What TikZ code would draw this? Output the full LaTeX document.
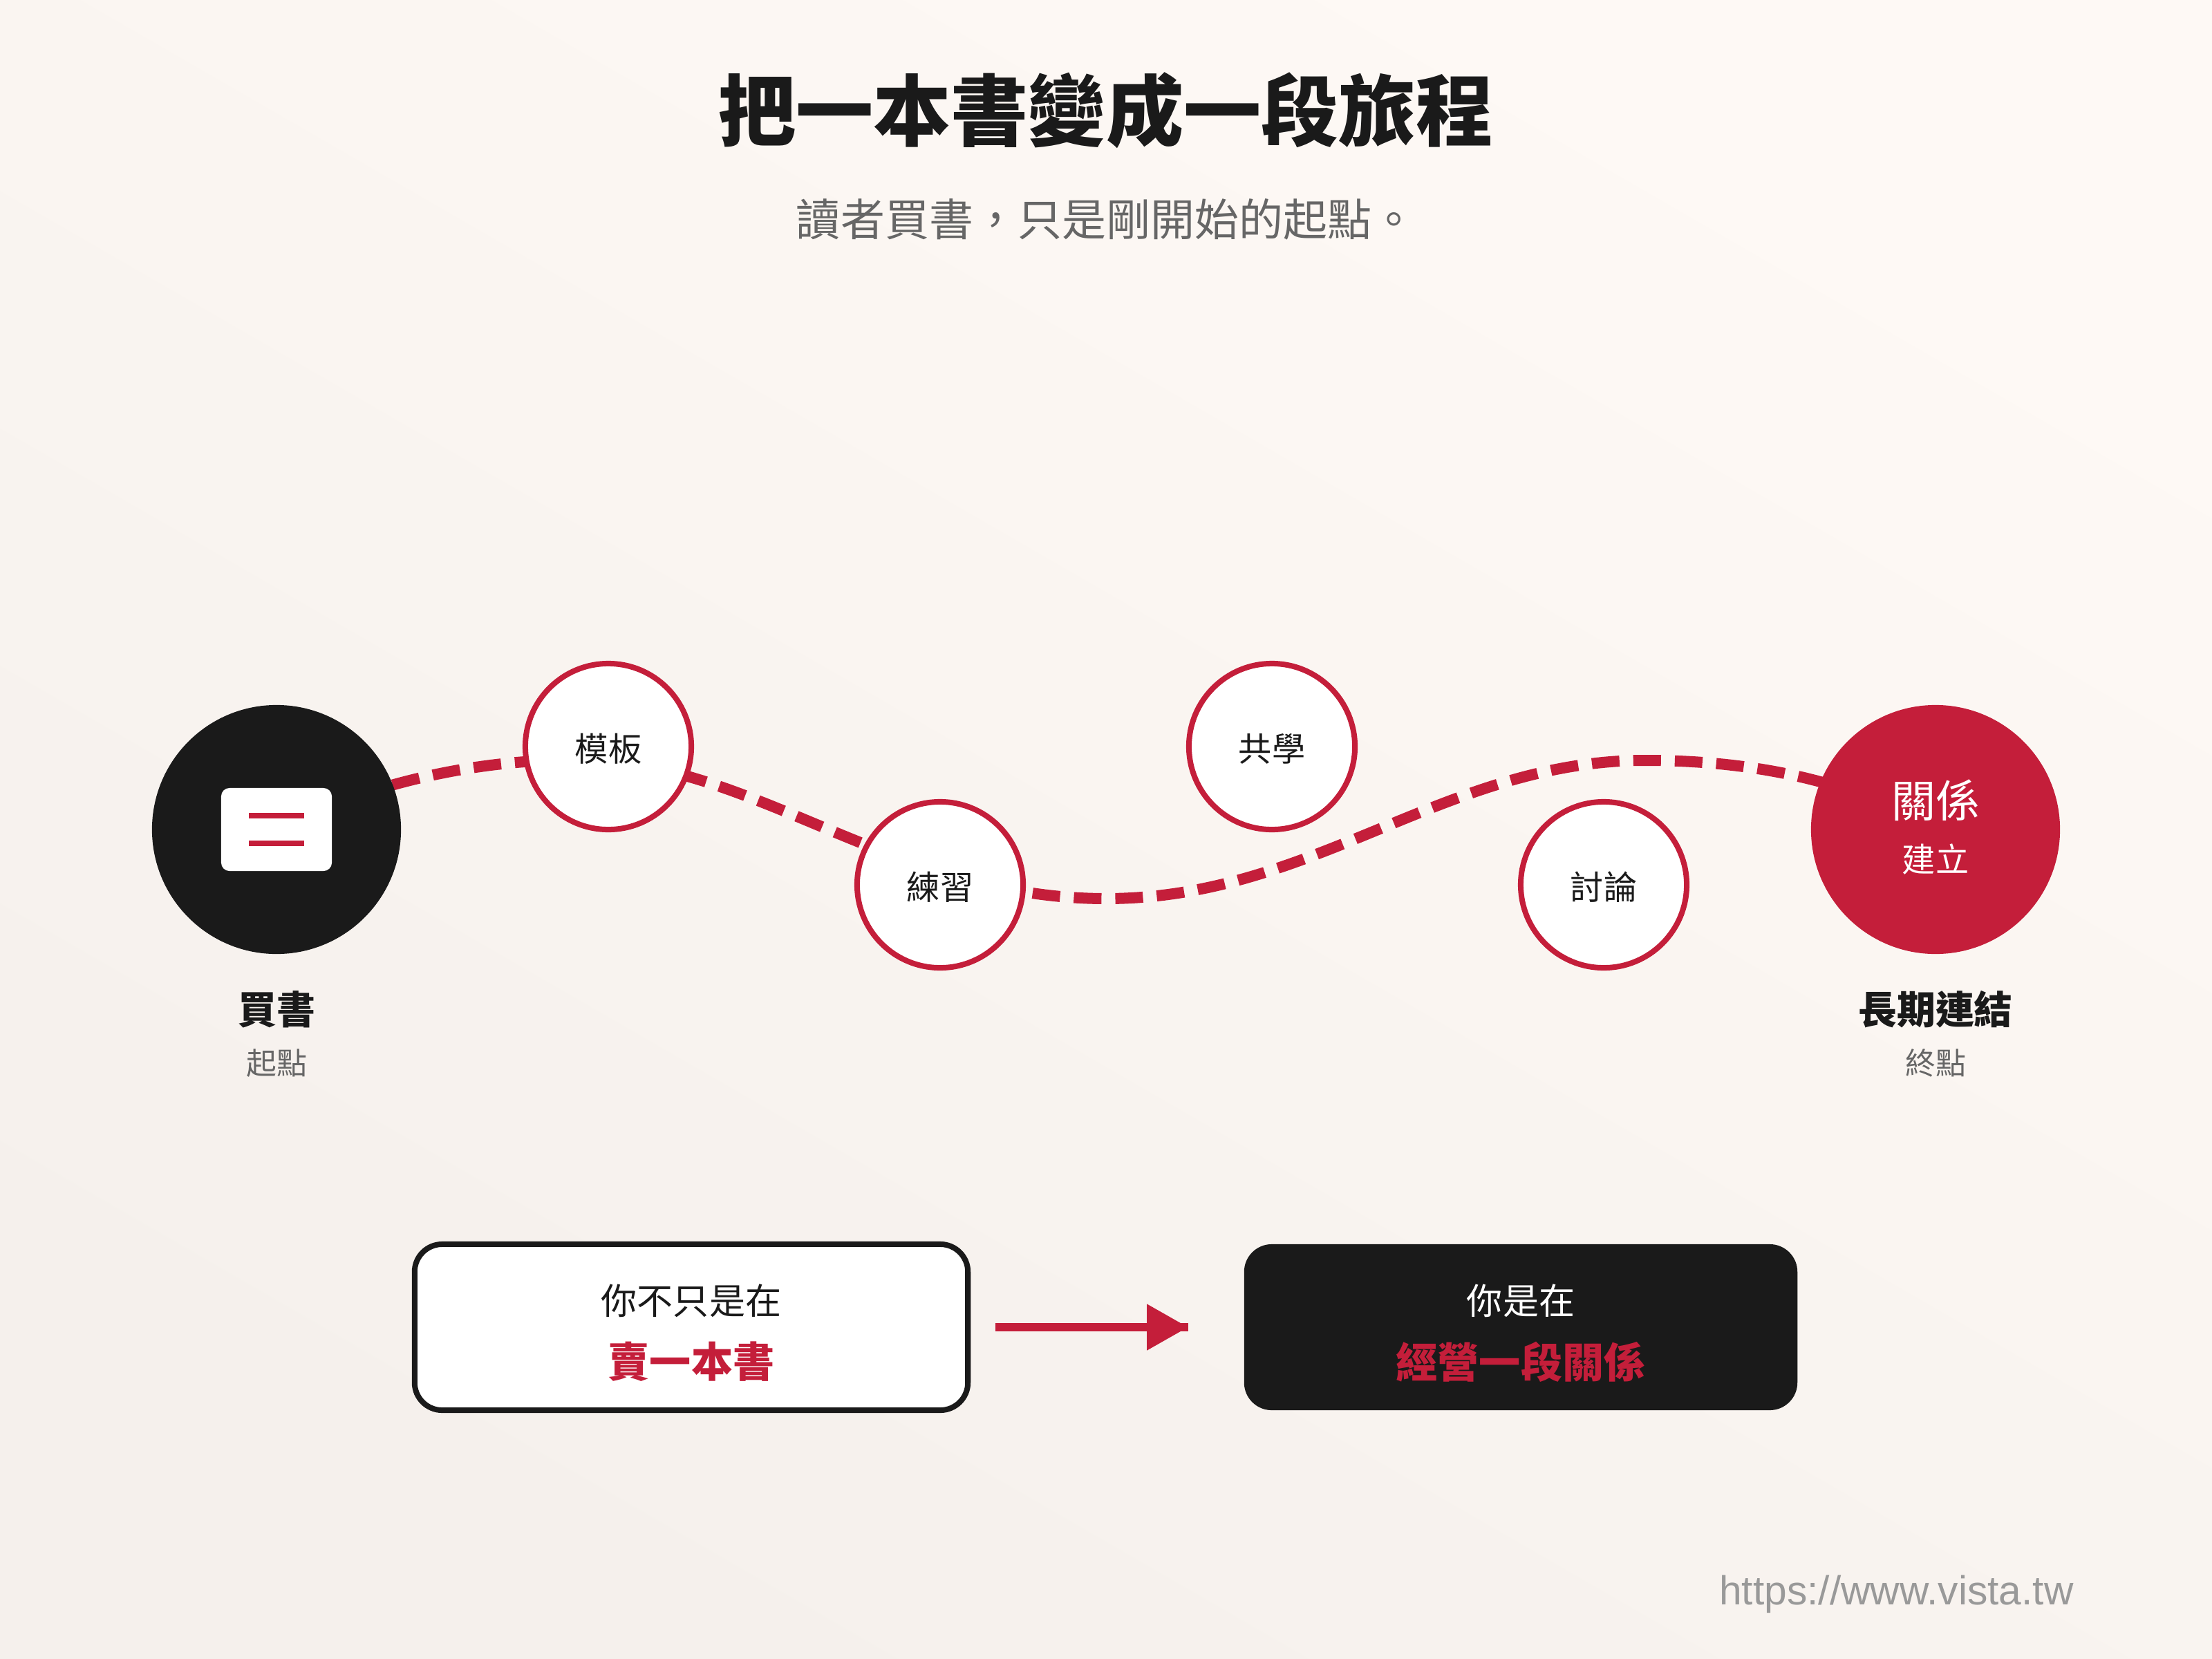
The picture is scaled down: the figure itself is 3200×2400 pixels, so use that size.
\documentclass[tikz,border=0pt]{standalone}
\usepackage{fontspec}
\setmainfont{Noto Sans CJK TC}
\newfontfamily\urlfont{Liberation Sans}
\usepackage{tikz}
\usetikzlibrary{arrows.meta,backgrounds}
\definecolor{inkblack}{HTML}{1A1A1A}
\definecolor{bookred}{HTML}{C41E3A}
\definecolor{softgray}{HTML}{666666}
\definecolor{urlgray}{HTML}{999999}
\definecolor{paperlight}{HTML}{FEF9F5}
\definecolor{paperdark}{HTML}{F5F0EC}

\begin{document}
\begin{tikzpicture}[x=0.01cm,y=-0.01cm,
  bigstop/.style={circle,minimum size=3.6cm,inner sep=0pt},
  midstop/.style={circle,draw=bookred,line width=0.08cm,fill=white,minimum size=2.4cm,
    inner sep=0pt,text=inkblack},
  stoptext/.style={text=inkblack,font=\fontsize{13.7}{16}\selectfont},
  mainlabel/.style={text=inkblack,font=\fontsize{15.9}{18}\selectfont\bfseries},
  sublabel/.style={text=softgray,font=\fontsize{12.5}{15}\selectfont},
  msgbox/.style={rectangle,minimum width=8cm,minimum height=2.4cm,rounded corners=0.4cm,inner sep=0pt},
  msgtop/.style={font=\fontsize{14.8}{17}\selectfont},
  msgred/.style={text=bookred,font=\fontsize{17.1}{20}\selectfont\bfseries},
  journey/.style={draw=bookred,line width=0.16cm,dash pattern=on 0.4cm off 0.2cm},
  flowline/.style={draw=bookred,line width=0.12cm,shorten <=0.36cm,shorten >=0.8cm}]
  \useasboundingbox (0,0) rectangle (3200,2400);

  %title
  \node[text=inkblack,font=\fontsize{31.9}{36}\selectfont\bfseries] (title) at (1600,160) {把一本書變成一段旅程};
  \node[text=softgray,font=\fontsize{18.2}{22}\selectfont] (subtitle) at (1600,317) {讀者買書\char"FF0C{}只是剛開始的起點。};

  %end points
  \node[bigstop,fill=inkblack] (buy) at (400,1200) {};
  \node[bigstop,fill=bookred] (rel) at (2800,1200) {};

  %book icon
  \node[rectangle,fill=white,minimum width=1.6cm,minimum height=1.2cm,rounded corners=0.12cm,inner sep=0pt] (book) at (buy) {};
  \foreach \y in {1180,1220} {
    \fill[bookred] (360,\y-4) rectangle (440,\y+4);
  }

  %stops along the way
  \foreach \name/\x/\y/\txt in {tpl/880/1080/模板,prac/1360/1280/練習,share/1840/1080/共學,talk/2320/1280/討論} {
    \node[midstop] (\name) at (\x,\y) {};
    \node[stoptext] (\name txt) at (\x,\y+3) {\txt};
  }

  %text in and under the end points
  \node[text=white,font=\fontsize{18.2}{22}\selectfont] (relA) at (2800,1158) {關係};
  \node[text=white,font=\fontsize{13.7}{16}\selectfont] (relB) at (2800,1243) {建立};
  \node[mainlabel] (buyA) at (400,1460) {買書};
  \node[sublabel] (buyB) at (400,1538) {起點};
  \node[mainlabel] (relC) at (2800,1460) {長期連結};
  \node[sublabel] (relD) at (2800,1538) {終點};

  %bottom message
  \node[msgbox,draw=inkblack,line width=0.08cm,fill=white] (sell) at (1000,1920) {};
  \node[msgbox,fill=inkblack] (run) at (2200,1920) {};
  \node[msgtop,text=inkblack] (sellA) at (1000,1882) {你不只是在};
  \node[msgred] (sellB) at (1000,1970) {賣一本書};
  \node[msgtop,text=white] (runA) at (2200,1882) {你是在};
  \node[msgred] (runB) at (2200,1970) {經營一段關係};
  \draw[flowline,-{Triangle[length=0.6cm,width=0.64cm]}] (sell.east) -- (run.west);
  \draw[flowline] (sell.east) -- (run.west);

  \node[text=urlgray,anchor=east,font=\urlfont\fontsize{16.7}{20}\selectfont] (url) at (3012,2306) {https://www.vista.tw};

  %the road goes below the stops
  \begin{pgfonlayer}{background}
    \shade[shading=axis,top color=paperlight,bottom color=paperdark,shading angle=-30] (0,0) rectangle (3200,2400);
    \draw[journey] (buy.center) .. controls (560,1120) and (730,1095) .. (860,1100)
      .. controls (1100,1110) and (1300,1300) .. (1600,1300)
      .. controls (1900,1300) and (2090,1100) .. (2380,1100)
      .. controls (2560,1100) and (2700,1140) .. (rel.center);
  \end{pgfonlayer}
\end{tikzpicture}
\end{document}
